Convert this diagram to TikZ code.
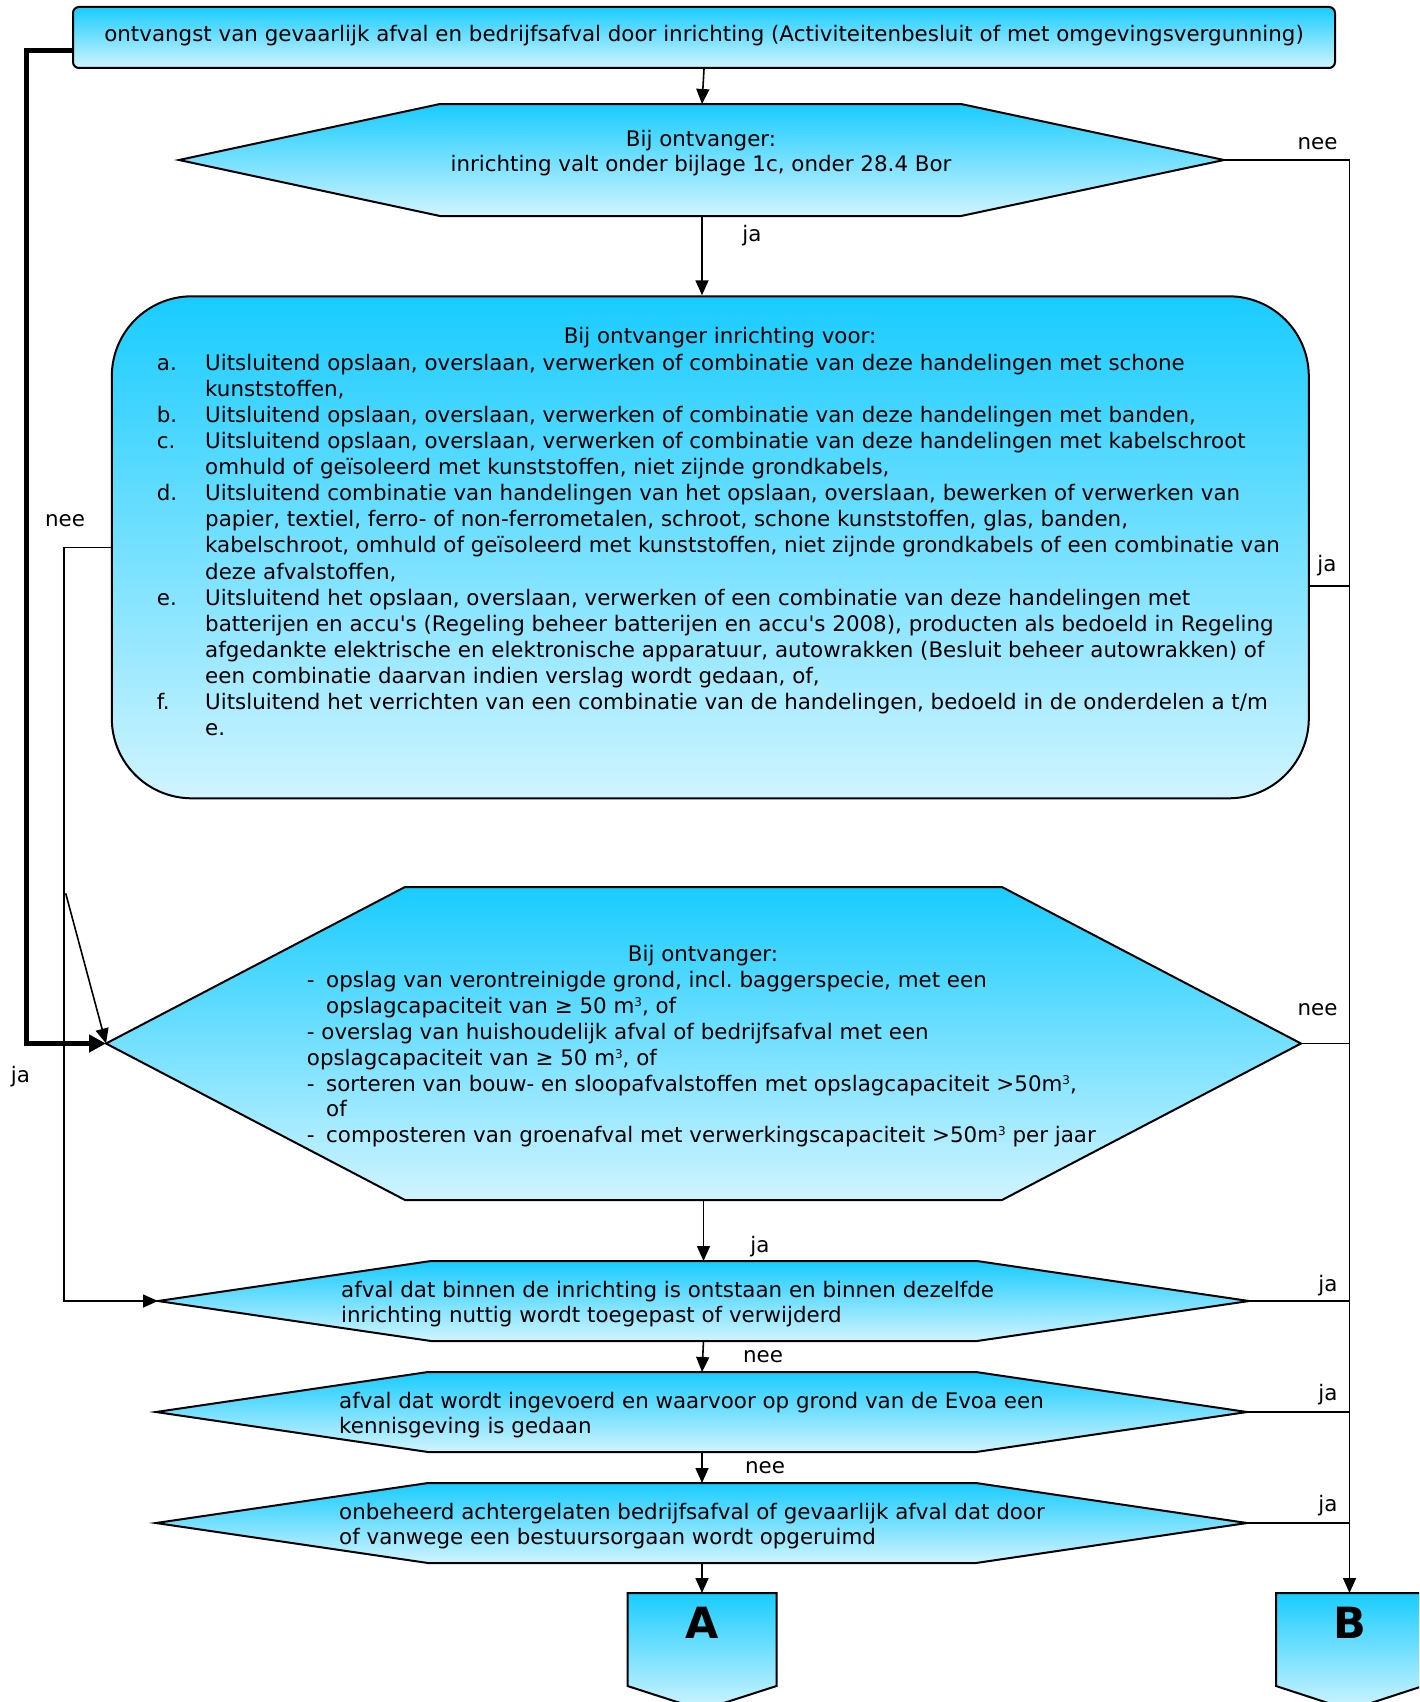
\documentclass[tikz,border=0pt]{standalone}
\usepackage{fontspec}
\setmainfont{DejaVu Sans}
\usetikzlibrary{arrows.meta, positioning, calc}
\definecolor{flowtop}{HTML}{19CCFE}
\definecolor{flowbottom}{HTML}{D0F4FF}
\newcommand{\itemlabel}[1]{\makebox[48.3pt][l]{#1}}
\newcommand{\itemgap}{\hspace*{48.3pt}}
\newcommand{\dashitem}{\makebox[19.3pt][l]{-}}
\newcommand{\dashgap}{\hspace*{19.3pt}}
\newcommand{\cubic}{\raisebox{7pt}{\fontsize{12}{12}\selectfont 3}}
\frenchspacing

\begin{document}
\begin{tikzpicture}[
    x=1pt, y=-1pt,
    font=\fontsize{21.4}{26.1}\selectfont,
    flowshape/.style={draw, line width=2pt, top color=flowtop, bottom color=flowbottom},
    startbox/.style={flowshape, rectangle, rounded corners=6pt, minimum width=1262pt,
                     minimum height=61pt, inner sep=0pt, text height=16.2pt, text depth=8.8pt},
    listbox/.style={flowshape, rectangle, rounded corners=80pt, minimum width=1197pt,
                    minimum height=502pt},
    flowtext/.style={inner sep=0pt, align=left},
    answer/.style={inner sep=0pt},
    connector/.style={line width=1.6pt},
    arrow/.style={connector, -{Triangle[length=15pt, width=13pt]}},
    mainarrow/.style={line width=5pt, -{Triangle[length=17pt, width=17pt]}},
    pageletter/.style={inner sep=0pt, font=\fontsize{43}{43}\selectfont\bfseries},
]
\useasboundingbox (0,0) rectangle (1419,1702);
\clip (0,0) rectangle (1419,1702);

% boxes
\node[startbox] (start) at (704,37.5) {ontvangst van gevaarlijk afval en bedrijfsafval door inrichting (Activiteitenbesluit of met omgevingsvergunning)};
\node[listbox] (intake) at (710.3,547.3) {};

% decisions
\draw[flowshape] (179,160) coordinate (q1w) -- (440,104) -- (702,104) coordinate (q1n) -- (961,104)
    -- (1224,160) coordinate (q1e) -- (961,216) -- (702,216) coordinate (q1s) -- (440,216) -- cycle;
\draw[flowshape] (106,1043.5) coordinate (q2w) -- (405,887) -- (1002,887)
    -- (1301,1043.5) coordinate (q2e) -- (1002,1200) -- (703.5,1200) coordinate (q2s) -- (405,1200) -- cycle;
\draw[flowshape] (158,1301) coordinate (q3w) -- (431,1261) -- (703.5,1261) coordinate (q3n) -- (977,1261)
    -- (1249,1301) coordinate (q3e) -- (977,1341) -- (703.5,1341) coordinate (q3s) -- (431,1341) -- cycle;
\draw[flowshape] (156,1412) coordinate (q4w) -- (428,1372) -- (702,1372) coordinate (q4n) -- (976,1372)
    -- (1247,1412) coordinate (q4e) -- (976,1452) -- (702,1452) coordinate (q4s) -- (428,1452) -- cycle;
\draw[flowshape] (156,1523) coordinate (q5w) -- (428,1483) -- (702,1483) coordinate (q5n) -- (976,1483)
    -- (1247,1523) coordinate (q5e) -- (976,1563) -- (702,1563) coordinate (q5s) -- (428,1563) -- cycle;

% off-page connectors
\draw[flowshape] (627.5,1593) -- (702,1593) coordinate (an) -- (776.5,1593) -- (776.5,1686)
    -- (702,1710) -- (627.5,1686) -- cycle;
\draw[flowshape] (1276,1593) -- (1349.5,1593) coordinate (bn) -- (1423,1593) -- (1423,1686)
    -- (1349.5,1710) -- (1276,1686) -- cycle;
\node[pageletter, anchor=base] (pagea) at (702,1638.3) {A};
\node[pageletter, anchor=base] (pageb) at (1349.5,1638.3) {B};

% texts
\node[flowtext, align=center, anchor=north, font=\fontsize{21.4}{25}\selectfont] (q1text) at (701,129.8)
    {Bij ontvanger:\\inrichting valt onder bijlage 1c, onder 28.4 Bor};
\node[answer, anchor=base] (intakehead) at (720,343.3) {Bij ontvanger inrichting voor:};
\node[flowtext, anchor=north west] (intakelist) at (156.7,353.8) {%
\itemlabel{a.}Uitsluitend opslaan, overslaan, verwerken of combinatie van deze handelingen met schone\\
\itemgap kunststoffen,\\
\itemlabel{b.}Uitsluitend opslaan, overslaan, verwerken of combinatie van deze handelingen met banden,\\
\itemlabel{c.}Uitsluitend opslaan, overslaan, verwerken of combinatie van deze handelingen met kabelschroot\\
\itemgap omhuld of geïsoleerd met kunststoffen, niet zijnde grondkabels,\\
\itemlabel{d.}Uitsluitend combinatie van handelingen van het opslaan, overslaan, bewerken of verwerken van\\
\itemgap papier, textiel, ferro- of non-ferrometalen, schroot, schone kunststoffen, glas, banden,\\
\itemgap kabelschroot, omhuld of geïsoleerd met kunststoffen, niet zijnde grondkabels of een combinatie van\\
\itemgap deze afvalstoffen,\\
\itemlabel{e.}Uitsluitend het opslaan, overslaan, verwerken of een combinatie van deze handelingen met\\
\itemgap batterijen en accu\textquotesingle s (Regeling beheer batterijen en accu\textquotesingle s 2008), producten als bedoeld in Regeling\\
\itemgap afgedankte elektrische en elektronische apparatuur, autowrakken (Besluit beheer autowrakken) of\\
\itemgap een combinatie daarvan indien verslag wordt gedaan, of,\\
\itemlabel{f.}Uitsluitend het verrichten van een combinatie van de handelingen, bedoeld in de onderdelen a t/m\\
\itemgap e.};
\node[answer, anchor=base] (q2head) at (703,961.7) {Bij ontvanger:};
\node[flowtext, anchor=north west, font=\fontsize{21.4}{25.8}\selectfont] (q2list) at (306.7,971.5) {%
\dashitem opslag van verontreinigde grond, incl. baggerspecie, met een\\
\dashgap opslagcapaciteit van ≥ 50 m\cubic, of\\
- overslag van huishoudelijk afval of bedrijfsafval met een\\
opslagcapaciteit van ≥ 50 m\cubic, of\\
\dashitem sorteren van bouw- en sloopafvalstoffen met opslagcapaciteit >50m\cubic,\\
\dashgap of\\
\dashitem composteren van groenafval met verwerkingscapaciteit >50m\cubic{} per jaar};
\node[flowtext, anchor=north west, font=\fontsize{21.4}{25}\selectfont] (q3text) at (341,1281.1)
    {afval dat binnen de inrichting is ontstaan en binnen dezelfde\\inrichting nuttig wordt toegepast of verwijderd};
\node[flowtext, anchor=north west, font=\fontsize{21.4}{25}\selectfont] (q4text) at (339,1392.1)
    {afval dat wordt ingevoerd en waarvoor op grond van de Evoa een\\kennisgeving is gedaan};
\node[flowtext, anchor=north west, font=\fontsize{21.4}{25}\selectfont] (q5text) at (339,1503.1)
    {onbeheerd achtergelaten bedrijfsafval of gevaarlijk afval dat door\\of vanwege een bestuursorgaan wordt opgeruimd};

% main flow
\draw[arrow] (start.south) -- (q1n);
\draw[arrow] (q1s) -- (q1s |- intake.north);
\draw[arrow] (q2s) -- (q3n);
\draw[arrow] (q3s) -- (q4n);
\draw[arrow] (q4s) -- (q5n);
\draw[arrow] (q5s) -- (an);

% right rail to B
\coordinate (rail) at (1349.5,0);
\draw[arrow] (q1e) -- (q1e -| rail) -- (bn);
\draw[connector] ([yshift=-38.5pt]intake.east) coordinate (intakeja) -- (intakeja -| rail);
\draw[connector] (q2e) -- (q2e -| rail);
\draw[connector] (q3e) -- (q3e -| rail);
\draw[connector] (q4e) -- (q4e -| rail);
\draw[connector] (q5e) -- (q5e -| rail);

% left side
\coordinate (leftrail) at (64,0);
\coordinate (outerrail) at (26.5,0);
\coordinate (crossing) at (65.7,893.3);
\draw[arrow] (intake.west) -- (intake.west -| leftrail) -- (leftrail |- q3w) -- (q3w);
\draw[arrow] (crossing) -- (q2w);
\draw[mainarrow] ([yshift=-13.3pt]start.west) coordinate (startout) -- (startout -| outerrail)
    -- (outerrail |- q2w) -- (q2w);

% answers
\node[answer] (q1no) at (1317.5,144) {nee};
\node[answer] (q1yes) at (752,236) {ja};
\node[answer] (intakeyes) at (1327,566) {ja};
\node[answer] (intakeno) at (65,521) {nee};
\node[answer] (startyes) at (20.5,1077) {ja};
\node[answer] (q2no) at (1317.5,1010) {nee};
\node[answer] (q2yes) at (760,1247) {ja};
\node[answer] (q3yes) at (1328,1286) {ja};
\node[answer] (q3no) at (763,1357) {nee};
\node[answer] (q4yes) at (1328,1395) {ja};
\node[answer] (q4no) at (765,1468) {nee};
\node[answer] (q5yes) at (1328,1506) {ja};
\end{tikzpicture}
\end{document}
